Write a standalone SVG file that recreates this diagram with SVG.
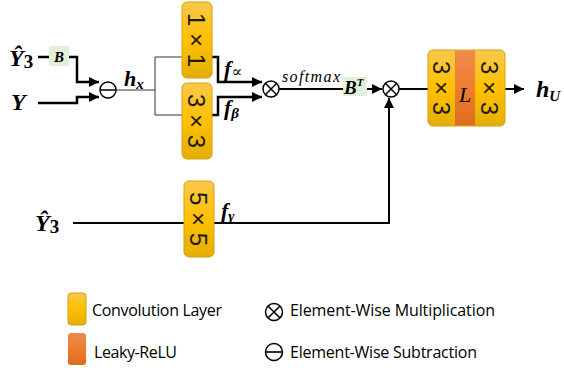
<svg xmlns="http://www.w3.org/2000/svg" width="564" height="368" viewBox="0 0 564 368">
<defs>
<linearGradient id="gconv" x1="0" y1="0" x2="0" y2="1">
<stop offset="0" stop-color="#f9c84c"/>
<stop offset="0.5" stop-color="#ffc000"/>
<stop offset="1" stop-color="#e3ae06"/>
</linearGradient>
<linearGradient id="grelu" x1="0" y1="0" x2="0" y2="1">
<stop offset="0" stop-color="#ef8a4a"/>
<stop offset="0.5" stop-color="#ed7d31"/>
<stop offset="1" stop-color="#e06c1e"/>
</linearGradient>
<marker id="arr" viewBox="0 0 10 10" refX="10" refY="5" markerWidth="10" markerHeight="10" markerUnits="userSpaceOnUse" orient="auto">
<path d="M0,0 L10,5 L0,10 Z" fill="#000"/>
</marker>
</defs>
<style>
.conv{fill:url(#gconv);stroke:#d8a20a;stroke-width:1}
.relu{fill:url(#grelu);stroke:none}
.lbl{font-family:"Liberation Sans","DejaVu Sans",sans-serif;font-size:24px;fill:#1a1a1a}
.math{font-family:"Liberation Serif","DejaVu Serif",serif;font-weight:bold;font-style:italic;fill:#000}
.up{font-style:normal}
.leg{font-family:"Open Sans","Liberation Sans",sans-serif;font-size:16px;fill:#000}
.thick{fill:none;stroke:#000;stroke-width:2.5}
.med{fill:none;stroke:#000;stroke-width:2}
.thin{fill:none;stroke:#333;stroke-width:1}
.op{fill:#fff;stroke:#000;stroke-width:1.5}
.gbox{fill:#e2efd9}
</style>

<g id="connectors">
<path class="thick" d="M38,57 H49"/>
<path class="thick" d="M69,57 H77 V82 H99" marker-end="url(#arr)"/>
<path class="thick" d="M38,103 H77 V97 H99" marker-end="url(#arr)"/>
<path class="thin" d="M116,90 H155"/>
<path class="thin" d="M155,57 V115"/>
<path class="thin" d="M155,57 H182"/>
<path class="thin" d="M155,115 H182"/>
<path class="thick" d="M212,57 H218 V82 H262" marker-end="url(#arr)"/>
<path class="thick" d="M212,115 H218 V97 H262" marker-end="url(#arr)"/>
<path class="med" d="M279,89 H343"/>
<path class="med" d="M367,89 H382" marker-end="url(#arr)"/>
<path class="med" d="M399,89 H428"/>
<path class="med" d="M505,89 H524" marker-end="url(#arr)"/>
<path class="med" d="M73,223 H389 V98" marker-end="url(#arr)"/>
</g>

<g id="in-yhat3-top">
<text class="math" x="9" y="66" font-size="24">Ŷ<tspan class="up" font-size="19" dy="2">3</tspan></text>
</g>
<g id="node-B">
<rect class="gbox" x="49" y="46" width="20" height="20"/>
<text class="math" x="59" y="62" font-size="15" text-anchor="middle">B</text>
</g>
<g id="in-Y">
<text class="math" x="11" y="110" font-size="24">Y</text>
</g>
<g id="in-yhat3-bottom">
<text class="math" x="35" y="231" font-size="24">Ŷ<tspan class="up" font-size="19" dy="2">3</tspan></text>
</g>

<g id="node-sub">
<circle class="op" cx="108" cy="90" r="8"/>
<line x1="101" y1="90" x2="115" y2="90" stroke="#000" stroke-width="1.5"/>
</g>
<g id="label-hx">
<text class="math" x="124" y="86" font-size="22">h<tspan font-size="15" dy="3">x</tspan></text>
</g>

<g id="node-conv1x1">
<rect class="conv" x="182" y="2" width="30" height="76" rx="5"/>
<text class="lbl" transform="translate(196,40) rotate(90)" text-anchor="middle" dominant-baseline="central">1 × 1</text>
</g>
<g id="node-conv3x3a">
<rect class="conv" x="182" y="83" width="30" height="76" rx="5"/>
<text class="lbl" transform="translate(196,121) rotate(90)" text-anchor="middle" dominant-baseline="central">3 × 3</text>
</g>
<g id="label-falpha">
<text class="math" x="224" y="76" font-size="22">f<tspan style="font-style:normal;font-weight:normal" font-size="16" dy="1">∝</tspan></text>
</g>
<g id="label-fbeta">
<text class="math" x="224" y="115" font-size="22">f<tspan font-size="15" dy="3">β</tspan></text>
</g>

<g id="node-mul1">
<circle class="op" cx="271" cy="89" r="8"/>
<path d="M265.3,83.3 L276.7,94.7 M276.7,83.3 L265.3,94.7" stroke="#000" stroke-width="1.5"/>
</g>
<g id="label-softmax">
<text x="282" y="82" font-family="Liberation Serif, DejaVu Serif, serif" font-style="italic" font-size="16" textLength="58">softmax</text>
</g>
<g id="node-BT">
<rect class="gbox" x="343" y="77" width="24" height="19"/>
<text class="math" x="344" y="94" font-size="19">B<tspan font-size="11" dy="-8">T</tspan></text>
</g>
<g id="node-mul2">
<circle class="op" cx="391" cy="89" r="8"/>
<path d="M385.3,83.3 L396.7,94.7 M396.7,83.3 L385.3,94.7" stroke="#000" stroke-width="1.5"/>
</g>

<g id="node-conv5x5">
<rect class="conv" x="184" y="181" width="30" height="76" rx="5"/>
<text class="lbl" transform="translate(198,219) rotate(90)" text-anchor="middle" dominant-baseline="central">5 × 5</text>
</g>
<g id="label-fgamma">
<text class="math" x="221" y="218" font-size="22">f<tspan font-size="15" dy="3">γ</tspan></text>
</g>

<g id="node-block">
<rect class="conv" x="428" y="50" width="77" height="76" rx="5"/>
<rect class="relu" x="455" y="50.5" width="20" height="75"/>
<text class="lbl" transform="translate(441,88) rotate(90)" text-anchor="middle" dominant-baseline="central">3 × 3</text>
<text x="465" y="102" font-family="Liberation Serif, DejaVu Serif, serif" font-style="italic" font-size="22" text-anchor="middle">L</text>
<text class="lbl" transform="translate(489.5,88) rotate(90)" text-anchor="middle" dominant-baseline="central">3 × 3</text>
</g>
<g id="label-hU">
<text class="math" x="536" y="97" font-size="24">h<tspan font-size="15" dy="4">U</tspan></text>
</g>

<g id="legend">
<rect class="conv" x="68" y="293" width="18" height="32" rx="3"/>
<text class="leg" x="92" y="316" textLength="130">Convolution Layer</text>
<rect class="relu" x="68" y="333" width="18" height="32" rx="3"/>
<text class="leg" x="94" y="358" textLength="83">Leaky-ReLU</text>
<circle class="op" cx="274" cy="312" r="8.5"/>
<path d="M268,306 L280,318 M280,306 L268,318" stroke="#000" stroke-width="1.6"/>
<text class="leg" x="290" y="316" textLength="205">Element-Wise Multiplication</text>
<circle class="op" cx="274" cy="352" r="8.5"/>
<line x1="265.5" y1="352" x2="282.5" y2="352" stroke="#000" stroke-width="1.6"/>
<text class="leg" x="290" y="358" textLength="187">Element-Wise Subtraction</text>
</g>
</svg>
